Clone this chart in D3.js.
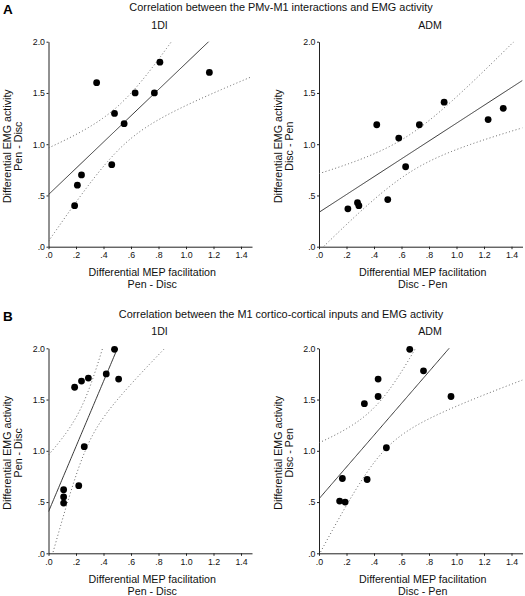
<!DOCTYPE html>
<html><head><meta charset="utf-8">
<script src="https://cdn.jsdelivr.net/npm/d3@7"></script>
<style>
body{margin:0;background:#fff;}
svg{display:block;font-family:Arial,"Liberation Sans",sans-serif;}
</style></head>
<body>
<script>
// ---- data ----
const sectionLabels = ["A", "B"];
const sectionTitles = [
  "Correlation between the PMv-M1 interactions and EMG activity",
  "Correlation between the M1 cortico-cortical inputs and EMG activity"
];
const muscleNames = ["1DI", "ADM"];
const xTickValues = [0, 0.2, 0.4, 0.6, 0.8, 1.0, 1.2, 1.4];
const yTickValues = [0, 0.5, 1.0, 1.5, 2.0];
const xAxisTitle = "Differential MEP facilitation";
const yAxisTitle = "Differential EMG activity";
const diff1DI = "Pen - Disc";
const diffADM = "Disc - Pen";

// A, 1DI
const a1diX = [0.19, 0.21, 0.24, 0.35, 0.46, 0.48, 0.55, 0.63, 0.77, 0.81, 1.17];
const a1diY = [0.40, 0.60, 0.70, 1.60, 0.80, 1.30, 1.20, 1.50, 1.50, 1.80, 1.70];
// A, ADM
const aAdmX = [0.21, 0.28, 0.29, 0.42, 0.50, 0.58, 0.63, 0.73, 0.91, 1.23, 1.34];
const aAdmY = [0.37, 0.43, 0.40, 1.19, 0.46, 1.06, 0.78, 1.19, 1.41, 1.24, 1.35];
// B, 1DI
const b1diX = [0.11, 0.11, 0.11, 0.19, 0.22, 0.24, 0.26, 0.29, 0.42, 0.48, 0.51];
const b1diY = [0.49, 0.55, 0.62, 1.62, 0.66, 1.68, 1.04, 1.71, 1.75, 1.99, 1.70];
// B, ADM
const bAdmX = [0.15, 0.17, 0.19, 0.33, 0.35, 0.43, 0.43, 0.49, 0.66, 0.76, 0.96];
const bAdmY = [0.51, 0.73, 0.50, 1.46, 0.72, 1.70, 1.53, 1.03, 1.99, 1.78, 1.53];

const tCrit95 = 2.262; // two-sided 95%, df = 9

// ---- layout ----
const W = 525, H = 596;
const xDomainMax = 1.48;
const plotW = 203.5;
const panels = [
  {sec:0, m:0, x0:48.5, top:41.7, bot:246.7, xs:a1diX, ys:a1diY, sub:diff1DI},
  {sec:0, m:1, x0:319,  top:41.7, bot:246.7, xs:aAdmX, ys:aAdmY, sub:diffADM},
  {sec:1, m:0, x0:48.5, top:348.3, bot:553.3, xs:b1diX, ys:b1diY, sub:diff1DI},
  {sec:1, m:1, x0:319,  top:348.3, bot:553.3, xs:bAdmX, ys:bAdmY, sub:diffADM}
];
const sectionY = [11, 318];

const svg = d3.select("body").append("svg").attr("width", W).attr("height", H);

sectionLabels.forEach((lab, i) => {
  svg.append("text").attr("x", 3).attr("y", sectionY[i] + 2.5)
    .attr("font-size", 13.5).attr("font-weight", "bold").attr("fill", "#000").text(lab);
  svg.append("text").attr("x", 281).attr("y", sectionY[i])
    .attr("text-anchor", "middle").attr("font-size", 10.9).attr("fill", "#111").text(sectionTitles[i]);
});

const fmt = d => d3.format(".1f")(d).replace(/^0/, "");

function fit(xs, ys) {
  const n = xs.length;
  const mx = d3.mean(xs), my = d3.mean(ys);
  let sxx = 0, sxy = 0;
  xs.forEach((x, i) => { sxx += (x - mx) ** 2; sxy += (x - mx) * (ys[i] - my); });
  const b = sxy / sxx, a = my - b * mx;
  let sse = 0;
  xs.forEach((x, i) => { sse += (ys[i] - a - b * x) ** 2; });
  const s = Math.sqrt(sse / (n - 2));
  const half = x => tCrit95 * s * Math.sqrt(1 / n + (x - mx) ** 2 / sxx);
  return {a, b, half};
}

panels.forEach((p, pi) => {
  const x = d3.scaleLinear().domain([0, xDomainMax]).range([p.x0, p.x0 + plotW]);
  const y = d3.scaleLinear().domain([0, 2]).range([p.bot, p.top]);
  const g = svg.append("g");

  const clipId = "clip" + pi;
  svg.append("clipPath").attr("id", clipId).append("rect")
    .attr("x", p.x0).attr("y", p.top).attr("width", plotW).attr("height", p.bot - p.top);

  // panel name
  g.append("text").attr("x", p.x0 + 111).attr("y", p.top - 13)
    .attr("text-anchor", "middle").attr("font-size", 10.6).attr("fill", "#111")
    .text(muscleNames[p.m]);

  // axes
  const xa = g.append("g").attr("transform", `translate(0,${p.bot})`)
    .call(d3.axisBottom(x).tickValues(xTickValues).tickFormat(fmt).tickSize(2.5).tickSizeOuter(0).tickPadding(3));
  const ya = g.append("g").attr("transform", `translate(${p.x0},0)`)
    .call(d3.axisLeft(y).tickValues(yTickValues).tickFormat(fmt).tickSize(2).tickSizeOuter(0).tickPadding(1.5));
  [xa, ya].forEach(a => {
    a.selectAll("text").attr("font-size", 8.8).attr("font-family", "Arial, 'Liberation Sans', sans-serif").attr("fill", "#111");
    a.select(".domain").attr("stroke", "#222").attr("stroke-width", 1);
    a.selectAll(".tick line").attr("stroke", "#222");
  });

  // axis titles
  const cx = p.x0 + plotW / 2;
  g.append("text").attr("x", cx + 2).attr("y", p.bot + 29.5).attr("text-anchor", "middle")
    .attr("font-size", 10.7).attr("fill", "#111").text(xAxisTitle);
  g.append("text").attr("x", cx + 2).attr("y", p.bot + 41.5).attr("text-anchor", "middle")
    .attr("font-size", 10.7).attr("fill", "#111").text(p.sub);
  const cy = (p.top + p.bot) / 2 + 2;
  const yl = p.x0 - 37.5;
  g.append("text").attr("transform", `translate(${yl},${cy}) rotate(-90)`).attr("text-anchor", "middle")
    .attr("font-size", 10.7).attr("fill", "#111").text(yAxisTitle);
  g.append("text").attr("transform", `translate(${yl + 11},${cy}) rotate(-90)`).attr("text-anchor", "middle")
    .attr("font-size", 10.7).attr("fill", "#111").text(p.sub);

  // regression + 95% CI bands
  const f = fit(p.xs, p.ys);
  const grid = d3.range(0, xDomainMax + 0.0001, xDomainMax / 200);
  const lg = g.append("g").attr("clip-path", `url(#${clipId})`);
  const line = d3.line().x(d => x(d[0])).y(d => y(d[1]));
  lg.append("path").attr("d", line(grid.map(v => [v, f.a + f.b * v])))
    .attr("fill", "none").attr("stroke", "#222").attr("stroke-width", 0.9);
  [1, -1].forEach(sg => {
    lg.append("path").attr("d", line(grid.map(v => [v, f.a + f.b * v + sg * f.half(v)])))
      .attr("fill", "none").attr("stroke", "#555").attr("stroke-width", 0.9)
      .attr("stroke-dasharray", "1,2.4");
  });

  // points
  g.selectAll("circle.pt").data(p.xs.map((v, i) => [v, p.ys[i]])).enter()
    .append("circle").attr("class", "pt")
    .attr("cx", d => x(d[0])).attr("cy", d => y(d[1])).attr("r", 3.4).attr("fill", "#000");
});
</script>
</body></html>
